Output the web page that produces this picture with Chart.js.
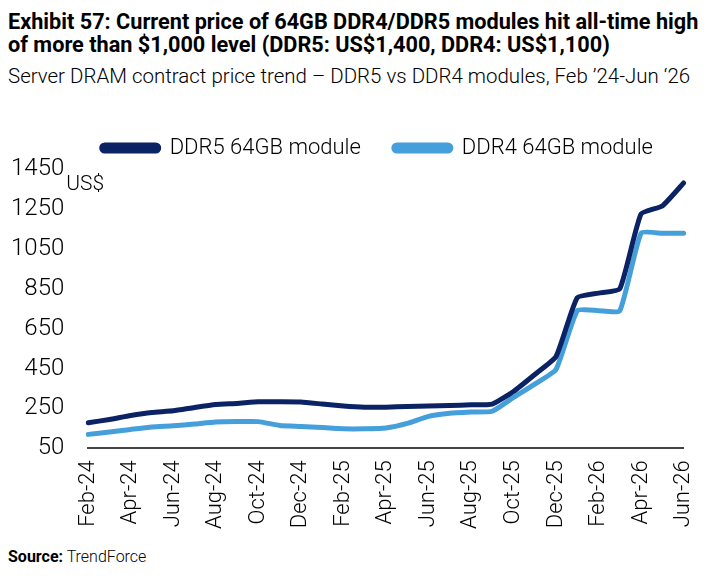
<!DOCTYPE html>
<html>
<head>
<meta charset="utf-8">
<script src="https://cdn.jsdelivr.net/npm/chart.js@4.4.1/dist/chart.umd.min.js"></script>
<style>
  html, body { margin: 0; padding: 0; background: #fff; }
  body { width: 722px; height: 576px; position: relative; overflow: hidden;
         font-family: "Roboto", "Liberation Sans", sans-serif; color: #000; }
  .line { position: absolute; left: 8px; white-space: nowrap; transform-origin: 0 0; line-height: 26px; }
  #t1 { top: 9px; font-size: 22px; font-weight: bold; transform: scaleX(0.985); }
  #t2 { top: 32px; font-size: 22px; font-weight: bold; transform: scaleX(0.985); }
  #subtitle { top: 63px; font-size: 21px; font-weight: 300; transform: scaleX(0.975); }
  #source { top: 547px; font-size: 16px; line-height: 20px; font-weight: 300; }
  #source b { font-weight: bold; }
  #wrap { position: absolute; left: 0; top: 104px; width: 722px; height: 437px; }
</style>
</head>
<body>
<div class="line" id="t1">Exhibit 57: Current price of 64GB DDR4/DDR5 modules hit all-time high</div>
<div class="line" id="t2">of more than $1,000 level (DDR5: US$1,400, DDR4: US$1,100)</div>
<div class="line" id="subtitle">Server DRAM contract price trend – DDR5 vs DDR4 modules, Feb ’24-Jun ‘26</div>
<div id="wrap"><canvas id="myChart"></canvas></div>
<div class="line" id="source"><b>Source:</b> TrendForce</div>
<script>
var months = ['Feb-24','Mar-24','Apr-24','May-24','Jun-24','Jul-24','Aug-24','Sep-24','Oct-24','Nov-24','Dec-24',
  'Jan-25','Feb-25','Mar-25','Apr-25','May-25','Jun-25','Jul-25','Aug-25','Sep-25','Oct-25','Nov-25','Dec-25',
  'Jan-26','Feb-26','Mar-26','Apr-26','May-26','Jun-26'];

var ddr5 = [178, 195, 215, 230, 238, 255, 270, 275, 283, 283, 282,
  272, 262, 256, 256, 260, 262, 265, 268, 272, 335, 420, 510,
  805, 828, 850, 1225, 1265, 1380];

var ddr4 = [120, 132, 145, 157, 163, 172, 182, 184, 184, 165, 160,
  154, 148, 148, 152, 175, 210, 226, 232, 236, 305, 372, 445,
  740, 740, 740, 1128, 1128, 1128];

var yTicks = [50, 250, 450, 650, 850, 1050, 1250, 1450];

var fontFam = '"Roboto", "Liberation Sans", sans-serif';

// "US$" unit label in the top left corner of the plot
var unitLabel = {
  id: 'unitLabel',
  afterDraw: function (chart) {
    var ctx = chart.ctx;
    var y = chart.scales.y;
    ctx.save();
    ctx.font = '300 21px ' + fontFam;
    ctx.fillStyle = '#000';
    ctx.textAlign = 'left';
    ctx.textBaseline = 'middle';
    ctx.fillText('US$', chart.chartArea.left - 22, y.getPixelForValue(1370));
    ctx.restore();
  }
};

Chart.defaults.font.family = fontFam;
Chart.defaults.font.weight = '300';

const config = {
  type: 'line',
  data: {
    labels: months,
    datasets: [
      {
        label: 'DDR5 64GB module',
        data: ddr5,
        borderColor: '#0b2265',
        backgroundColor: '#0b2265',
        borderWidth: 5,
        pointRadius: 0,
        tension: 0.15,
        borderCapStyle: 'round',
        borderJoinStyle: 'round'
      },
      {
        label: 'DDR4 64GB module',
        data: ddr4,
        borderColor: '#459fdb',
        backgroundColor: '#459fdb',
        borderWidth: 5,
        pointRadius: 0,
        tension: 0.15,
        borderCapStyle: 'round',
        borderJoinStyle: 'round'
      }
    ]
  },
  options: {
    responsive: true,
    maintainAspectRatio: false,
    animation: false,
    layout: { padding: { left: -13, right: 36, top: 0, bottom: 0 } },
    scales: {
      x: {
        offset: false,
        grid: { display: false, drawTicks: false },
        border: { display: true, color: '#444', width: 2 },
        ticks: {
          autoSkip: false,
          maxRotation: 90,
          minRotation: 90,
          padding: 12,
          color: '#000',
          font: { size: 22, weight: '300' },
          callback: function (v, i) { return i % 2 === 0 ? months[i] : ''; }
        }
      },
      y: {
        min: 50,
        max: 1450,
        grid: { display: false, drawTicks: false },
        border: { display: false },
        afterBuildTicks: function (scale) {
          scale.ticks = yTicks.map(function (v) { return { value: v }; });
        },
        ticks: {
          padding: 24,
          color: '#000',
          font: { size: 24, weight: '300' },
          callback: function (v) { return String(v); }
        }
      }
    },
    plugins: {
      legend: {
        display: true,
        position: 'top',
        align: 'end',
        labels: {
          boxWidth: 57,
          boxHeight: 6,
          useBorderRadius: true,
          borderRadius: 3,
          padding: 33,
          color: '#000',
          font: { size: 22, weight: '300' }
        }
      },
      tooltip: { enabled: false }
    }
  },
  plugins: [unitLabel]
};

new Chart(document.getElementById('myChart'), config);
</script>
</body>
</html>
